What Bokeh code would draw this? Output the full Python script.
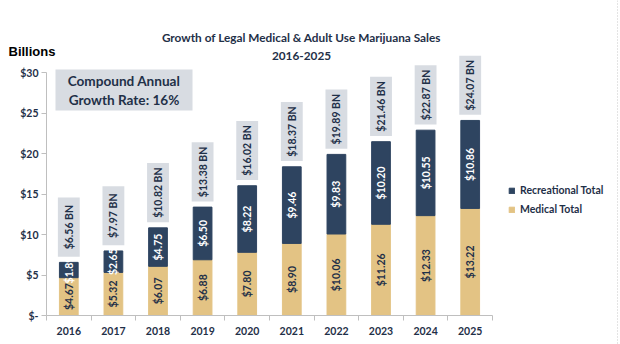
from bokeh.plotting import figure
from bokeh.models import (ColumnDataSource, FixedTicker, Label, Legend, LegendItem,
                          Span, Range1d)
from bokeh.core.properties import value
from bokeh.embed import file_html
from bokeh.resources import INLINE
import math

years = ["2016", "2017", "2018", "2019", "2020", "2021", "2022", "2023", "2024", "2025"]
medical = [4.67, 5.32, 6.07, 6.88, 7.80, 8.90, 10.06, 11.26, 12.33, 13.22]
recreational = [1.89, 2.65, 4.75, 6.50, 8.22, 9.46, 9.83, 10.20, 10.55, 10.86]
totals = [6.56, 7.97, 10.82, 13.38, 16.02, 18.37, 19.89, 21.46, 22.87, 24.07]
y_ticks = [0, 5, 10, 15, 20, 25, 30]
y_tick_labels = ["$-", "$5", "$10", "$15", "$20", "$25", "$30"]

NAVY = "#2e4460"
TAN = "#e3c384"
GREY = "#d8dce2"
TXT = "#1f3048"
FONT = "Lato"

xs = list(range(1, len(years) + 1))
rec_top = [m + r for m, r in zip(medical, recreational)]
BOX_GAP = 0.7
BOX_H = 7.3

src = ColumnDataSource(dict(
    x=xs, med=medical, rec=recreational, rec_top=rec_top,
    med_mid=[m / 2 for m in medical],
    rec_mid=[m + r / 2 for m, r in zip(medical, recreational)],
    med_lbl=[f"${v:.2f}" for v in medical],
    rec_lbl=[f"${v:.2f}" for v in recreational],
    tot_lbl=[f"${v:.2f} BN" for v in totals],
    box_y=[t + BOX_GAP + BOX_H / 2 for t in rec_top],
))

W, H = 620, 344
PX_X0 = 46.0      # pixel of the y axis
PX_PER_X = 44.6   # pixels per category
PX_Y0 = 315.0     # pixel of y = 0
PX_PER_Y = 8.1    # pixels per billion

p = figure(width=W, height=H, output_backend="svg", toolbar_location=None,
           x_range=Range1d(0.5 - PX_X0 / PX_PER_X, 0.5 + (W - PX_X0) / PX_PER_X),
           y_range=Range1d(-(H - PX_Y0) / PX_PER_Y, PX_Y0 / PX_PER_Y),
           min_border_left=0, min_border_right=0, min_border_top=0,
           min_border_bottom=0)
p.outline_line_color = None
p.xgrid.grid_line_color = None
p.ygrid.grid_line_color = None
p.background_fill_color = "white"
p.border_fill_color = "white"

med_r = p.vbar(x="x", bottom=0, top="med", width=0.42, color=TAN, source=src)
rec_r = p.vbar(x="x", bottom="med", top="rec_top", width=0.42, color=NAVY, source=src)

p.rect(x="x", y="box_y", width=0.49, height=BOX_H, fill_color=GREY, line_color=None, source=src)
p.text(x="x", y="box_y", text="tot_lbl", angle=math.pi / 2, text_align="center",
       text_baseline="middle", text_font=value(FONT), text_font_style="bold",
       text_font_size="10.5px", text_color=TXT, source=src)
p.text(x="x", y="med_mid", text="med_lbl", angle=math.pi / 2, text_align="center",
       text_baseline="middle", text_font=value(FONT), text_font_style="bold",
       text_font_size="10.5px", text_color=TXT, source=src)
p.text(x="x", y="rec_mid", text="rec_lbl", angle=math.pi / 2, text_align="center",
       text_baseline="middle", text_font=value(FONT), text_font_style="bold",
       text_font_size="10.5px", text_color="white", source=src)

# axes (drawn at fixed locations inside the frame)
xa = p.xaxis[0]
xa.fixed_location = 0
xa.ticker = FixedTicker(ticks=xs, minor_ticks=[x - 0.5 for x in xs] + [xs[-1] + 0.5])
xa.major_label_overrides = {x: y for x, y in zip(xs, years)}
xa.bounds = (0.5, len(years) + 0.5)
xa.major_tick_line_color = None
xa.minor_tick_line_color = "#bfbfbf"
xa.minor_tick_out = 5
xa.minor_tick_in = 0
xa.axis_line_color = "#bfbfbf"
xa.major_label_text_font = FONT
xa.major_label_text_font_style = "bold"
xa.major_label_text_font_size = "10.5px"
xa.major_label_text_color = TXT
xa.major_label_standoff = 5

ya = p.yaxis[0]
ya.fixed_location = 0.5
ya.ticker = FixedTicker(ticks=y_ticks, minor_ticks=[])
ya.major_label_overrides = {t: l for t, l in zip(y_ticks, y_tick_labels)}
ya.bounds = (0, 30)
ya.major_tick_line_color = "#bfbfbf"
ya.major_tick_out = 5
ya.major_tick_in = 0
ya.axis_line_color = "#bfbfbf"
ya.major_label_text_font = FONT
ya.major_label_text_font_style = "bold"
ya.major_label_text_font_size = "10.5px"
ya.major_label_text_color = TXT
ya.major_label_standoff = 3

def px2x(px):
    return 0.5 + (px - PX_X0) / PX_PER_X

def py2y(py):
    return (PX_Y0 - py) / PX_PER_Y

# titles
for txt, py in [("Growth of Legal Medical & Adult Use Marijuana Sales", 37), ("2016-2025", 55)]:
    p.add_layout(Label(x=px2x(301), y=py2y(py), text=txt, text_align="center",
                       text_baseline="middle", text_font=FONT, text_font_style="bold",
                       text_font_size="11.8px", text_color=TXT))

p.add_layout(Label(x=px2x(8), y=py2y(51), text="Billions", text_align="left",
                   text_baseline="middle", text_font="Liberation Sans",
                   text_font_style="bold", text_font_size="13px", text_color="black"))

# CAGR box
p.quad(left=px2x(55), right=px2x(192), top=py2y(69), bottom=py2y(110),
       fill_color=GREY, line_color=None)
for txt, py in [("Compound Annual", 80), ("Growth Rate: 16%", 99)]:
    p.add_layout(Label(x=px2x(123.5), y=py2y(py), text=txt, text_align="center",
                       text_baseline="middle", text_font=FONT, text_font_style="bold",
                       text_font_size="13.6px", text_color=TXT))

legend = Legend(items=[LegendItem(label="Recreational Total", renderers=[rec_r]),
                       LegendItem(label="Medical Total", renderers=[med_r])],
                location=(508, 129), glyph_width=7, glyph_height=7, label_height=10,
                label_standoff=5, spacing=7, padding=0, margin=0,
                border_line_color=None, background_fill_alpha=0,
                label_text_font=FONT, label_text_font_style="bold",
                label_text_font_size="10.5px", label_text_color=TXT)
p.add_layout(legend)

p.add_layout(Span(location=px2x(617), dimension="height", line_color="#c8c8c8",
                  line_dash="1 2", line_width=1))

open("out.html", "w").write(file_html(p, INLINE))
